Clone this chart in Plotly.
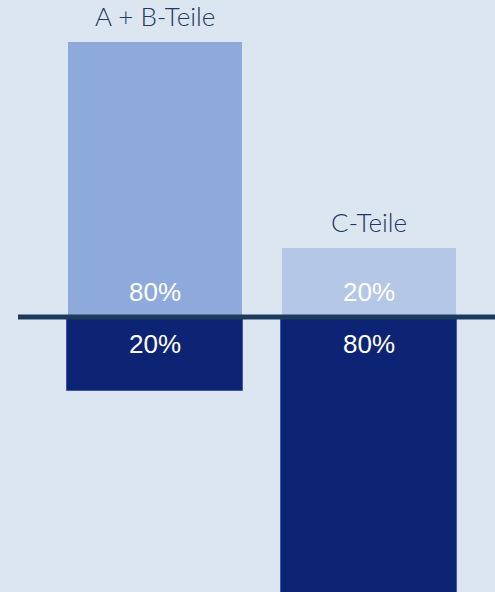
import plotly.graph_objects as go

categories = ["A + B-Teile", "C-Teile"]
upper_values = [80, 20]
lower_values = [20, 80]
upper_labels = ["80%", "20%"]
lower_labels = ["20%", "80%"]

x_pos = [0, 1]
bg = "#dce6f1"

fig = go.Figure()
fig.add_trace(go.Bar(
    x=x_pos, y=upper_values, width=0.813,
    marker=dict(color=["#8eaadc", "#b4c7e7"], line=dict(width=0)),
    hoverinfo="skip",
))
fig.add_trace(go.Bar(
    x=x_pos, y=[-v for v in lower_values], width=0.822, yaxis="y2",
    marker=dict(color="#0c2473", line=dict(width=1, color="#3a5aa8")),
    hoverinfo="skip",
))

annotations = []
for xi, cat, uv, ul, ll in zip(x_pos, categories, upper_values, upper_labels, lower_labels):
    annotations.append(dict(x=xi, y=uv, text=cat, showarrow=False, yanchor="bottom", yshift=8,
                            font=dict(family="Lato", size=26, color="#1f3864", weight=300)))
    annotations.append(dict(x=xi, y=0, text=ul, showarrow=False, yanchor="bottom", yshift=8,
                            font=dict(family="Liberation Sans, Arial", size=26, color="white")))
    annotations.append(dict(x=xi, y=0, text=ll, showarrow=False, yanchor="top", yshift=-10,
                            font=dict(family="Liberation Sans, Arial", size=26, color="white")))

fig.update_layout(
    width=495, height=592,
    margin=dict(l=0, r=0, t=0, b=0),
    paper_bgcolor=bg, plot_bgcolor=bg,
    barmode="overlay", bargap=0,
    showlegend=False,
    xaxis=dict(range=[-0.724, 1.589], visible=False, fixedrange=True),
    yaxis=dict(range=[-80, 92.2], visible=False, fixedrange=True),
    yaxis2=dict(range=[-74.3, 85.7], visible=False, fixedrange=True, overlaying="y"),
    annotations=annotations,
    shapes=[dict(type="line", xref="paper", yref="y", x0=18/495, x1=1, y0=0, y1=0,
                 line=dict(color="#1c3a5e", width=5), layer="above")],
)

fig.write_html("out.html", config={"displayModeBar": False},
               post_script="document.body.style.margin='0';document.body.style.overflow='hidden';")
